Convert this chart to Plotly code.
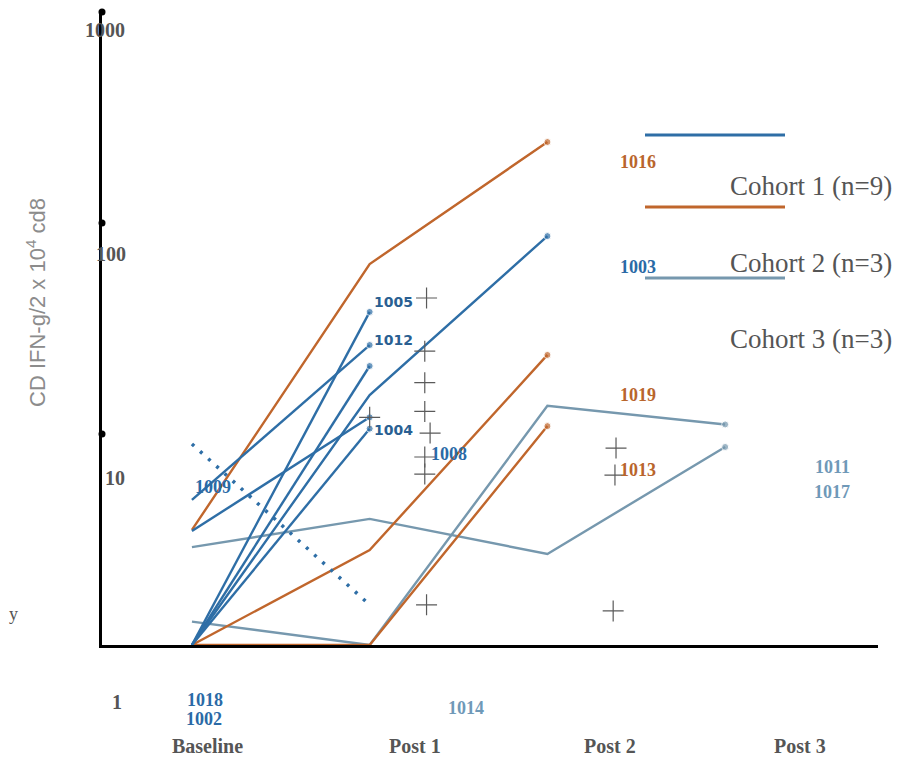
import plotly.graph_objects as go

# ---------------- data ----------------
categories = ["Baseline", "Post 1", "Post 2", "Post 3"]
ytick_labels = ["1000", "100", "10", "1"]
ytick_values = [1000, 100, 10]

# Cohort 1 (n=9) - blue
c1_1005 = [1, 37.9]
c1_1012 = [4.87, 26.4]
c1_1008 = [1, 21.0]
c1_x = [3.47, 12.0]
c1_1004 = [1, 10.6]
c1_1003 = [1, 15.3, 86.7]
c1_1009 = [8.97, 1.55]

# Cohort 2 (n=3) - orange
c2_1016 = [3.51, 63.9, 242]
c2_1019 = [1, 2.82, 23.7]
c2_1013 = [1, 1, 10.9]

# Cohort 3 (n=3) - grey-blue
c3_1011 = [2.91, 3.96, 2.70, 8.68]
c3_1017 = [1.29, 1, 13.6, 11.1]

# stray "+" markers
plus_x = [1.32, 1.31, 1.31, 1.31, 1.34, 1.31, 1.31, 1.32, 1.0, 2.386, 2.38, 2.37]
plus_y = [44.1, 24.7, 17.5, 12.8, 10.1, 7.78, 6.46, 1.55, 12.0, 8.58, 6.39, 1.45]

legend_labels = ["Cohort 1 (n=9)", "Cohort 2 (n=3)", "Cohort 3 (n=3)"]

# ---------------- styles ----------------
BLUE = "#2e6ea6"
ORANGE = "#c0662c"
GREY = "#7698ae"
BLUE_T = "#2a6aa6"
ORANGE_T = "#b9652c"
GREY_T = "#6f99b8"
TXT = "#555555"
SERIF = "Liberation Serif"

OFF = 8  # page body margin
W, H = 907 - OFF, 760 - OFF
L, R, T, B = 102 - OFF, 29, 12 - OFF, 115
PW, PH = W - L - R, H - T - B
XMIN, XMAX = -0.506, 3.86


def pp(px, py):
    # target picture pixel -> paper coordinates
    return (px - OFF - L) / PW, (H - B - (py - OFF)) / PH


fig = go.Figure()


def add_line(vals, color, width=2.4, end_dot=True, dash=None):
    xs = list(range(len(vals)))
    sizes = [0] * (len(vals) - 1) + [7 if end_dot else 0]
    fig.add_trace(go.Scatter(
        x=xs, y=vals, mode="lines+markers" if end_dot else "lines",
        line=dict(color=color, width=width, dash=dash),
        marker=dict(size=sizes, color=color),
        showlegend=False, hoverinfo="skip"))


# cohort 3
add_line(c3_1011, GREY)
add_line(c3_1017, GREY)
# cohort 2
add_line(c2_1016, ORANGE)
add_line(c2_1019, ORANGE)
add_line(c2_1013, ORANGE)
# cohort 1
add_line(c1_1005, BLUE)
add_line(c1_1012, BLUE)
add_line(c1_1008, BLUE)
add_line(c1_x, BLUE)
add_line(c1_1004, BLUE)
add_line(c1_1003, BLUE)
add_line(c1_1009, BLUE, width=3.5, end_dot=False, dash="3px,8px")

# plus markers
fig.add_trace(go.Scatter(
    x=plus_x, y=plus_y, mode="markers",
    marker=dict(symbol="cross-thin", size=15, line=dict(color="#5a5a5a", width=1.2)),
    showlegend=False, hoverinfo="skip"))

# y-axis tick dots
fig.add_trace(go.Scatter(
    x=[XMIN] * len(ytick_values), y=ytick_values, mode="markers",
    marker=dict(size=7, color="black"), cliponaxis=False,
    showlegend=False, hoverinfo="skip"))

ann = []


def text(s, px, py, size=20, color=TXT, family=SERIF, bold=True, xanchor="center", angle=0):
    x, y = pp(px, py)
    ann.append(dict(text=("<b>%s</b>" % s) if bold else s, x=x, y=y, xref="paper", yref="paper",
                    showarrow=False, xanchor=xanchor, yanchor="middle", textangle=angle,
                    font=dict(size=size, color=color, family=family)))


# y tick labels (displaced as in original)
for lab, (px, py) in zip(ytick_labels, [(105, 30), (111, 254), (115, 478), (117, 702)]):
    text(lab, px, py, size=20)

# category labels
for lab, (px, py) in zip(categories, [(207, 746), (415, 746), (610, 746), (800, 746)]):
    text(lab, px, py, size=20)

# id labels
sans_ids = [("1005", 393, 302), ("1012", 393, 340), ("1004", 393, 430)]
for s, px, py in sans_ids:
    text(s, px, py, size=14, color="#2a5f92", family="DejaVu Sans")

serif_ids = [
    ("1008", 449, 454, BLUE_T), ("1009", 213, 487, BLUE_T),
    ("1018", 205, 700, BLUE_T), ("1002", 204, 719, BLUE_T),
    ("1014", 466, 708, GREY_T),
    ("1016", 638, 162, ORANGE_T), ("1003", 638, 267, BLUE_T),
    ("1019", 638, 395, ORANGE_T), ("1013", 638, 470, ORANGE_T),
    ("1011", 832, 467, GREY_T), ("1017", 832, 492, GREY_T),
]
for s, px, py, c in serif_ids:
    text(s, px, py, size=18, color=c)

# legend text
for lab, py in zip(legend_labels, [186, 263, 339]):
    text(lab, 811, py, size=27, color=TXT, bold=False)

# y axis title
text("CD IFN-g/2 x 10<sup>4</sup> cd8", 36, 303, size=22, color="#8c8c8c",
     family="Liberation Sans", bold=False, angle=-90)

# stray glyph at left edge
text("y", 13, 614, size=18, color=TXT, bold=False)

shapes = []
for c, py in zip([BLUE, ORANGE, GREY], [135, 207, 278]):
    x0, y0 = pp(645, py)
    x1, _ = pp(785, py)
    shapes.append(dict(type="line", xref="paper", yref="paper", x0=x0, x1=x1, y0=y0, y1=y0,
                       line=dict(color=c, width=3)))

fig.update_layout(
    width=W, height=H, autosize=False,
    margin=dict(l=L, r=R, t=T, b=B, pad=0),
    paper_bgcolor="white", plot_bgcolor="white",
    annotations=ann, shapes=shapes,
    xaxis=dict(range=[XMIN, XMAX], showline=True, linecolor="black", linewidth=3,
               showgrid=False, zeroline=False, showticklabels=False, ticks=""),
    yaxis=dict(type="log", range=[0, 3], showline=True, linecolor="black", linewidth=3,
               showgrid=False, zeroline=False, showticklabels=False, ticks=""),
)

fig.write_html("out.html")
